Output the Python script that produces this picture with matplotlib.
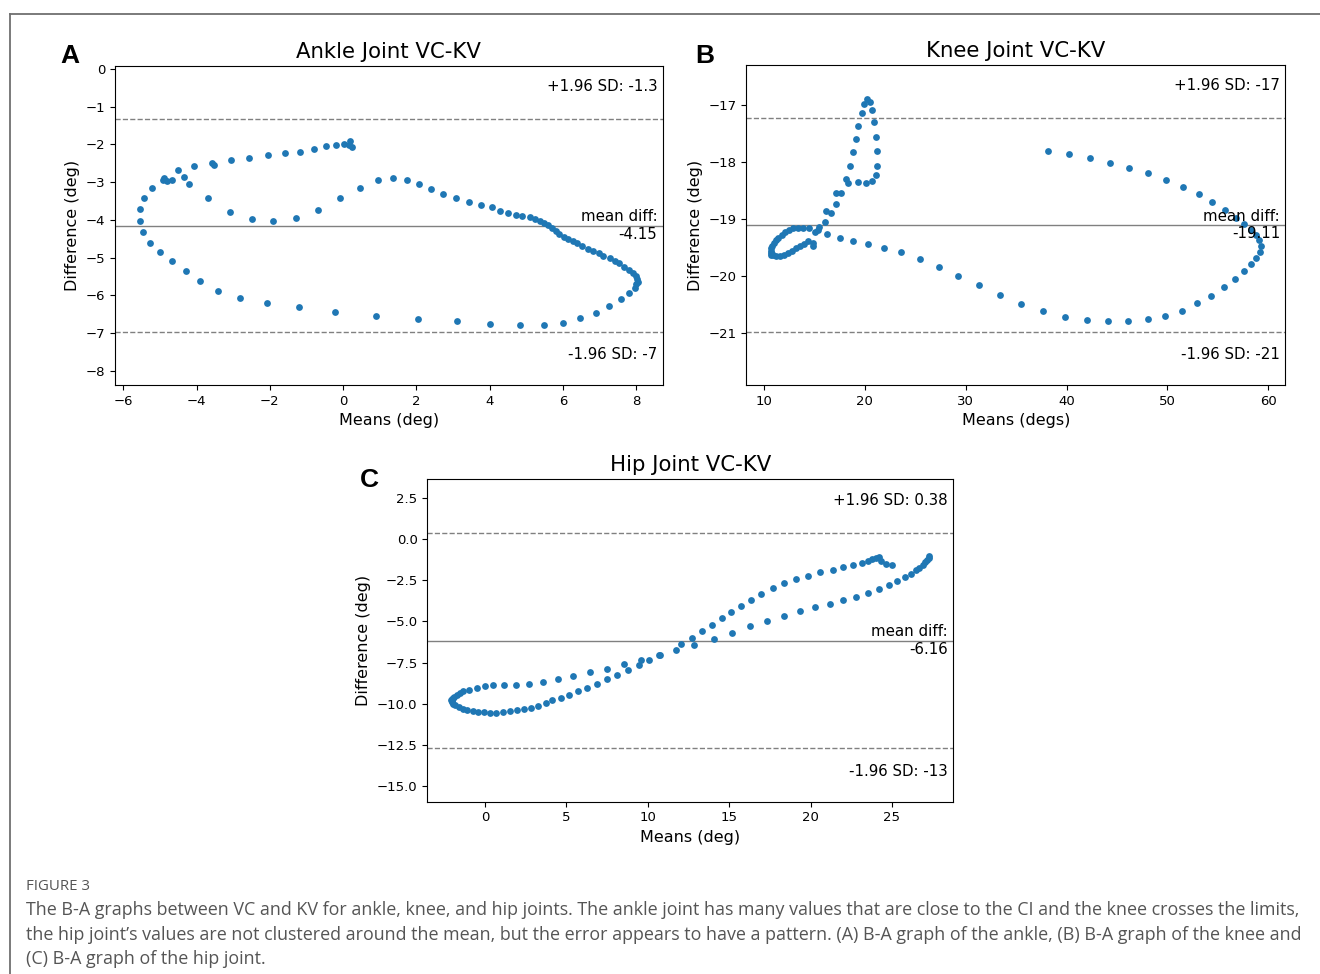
import matplotlib
matplotlib.use("Agg")
import matplotlib.pyplot as plt
from matplotlib.lines import Line2D

# ---- data ----
ankle_means = [0.18, 0.23, 0.16, 0.03, -0.19, -0.47, -0.81, -1.17, -1.60, -2.05, -2.56, -3.07,
               -3.58, -3.54, -4.06, -4.50, -4.35, -4.21, -4.68, -4.82, -4.90, -4.93, -5.22, -5.44,
               -5.54, -5.55, -5.47, -5.27, -4.99, -4.67, -4.30, -3.92, -3.42, -2.82, -2.07, -1.20,
               -0.22, 0.89,
               -3.70, -3.08, -2.49, -1.91, -1.29, -0.68, -0.10, 0.46, 0.94,
               1.36, 1.73, 2.06, 2.40, 2.73, 3.09, 3.44, 3.77, 4.05, 4.29, 4.51, 4.71, 4.89, 5.09,
               5.23, 5.36, 5.49, 5.60, 5.69, 5.80, 5.90, 6.02, 6.14, 6.27, 6.39, 6.52, 6.68, 6.82,
               6.98, 7.10, 7.27, 7.41, 7.54, 7.67, 7.79, 7.92, 7.99, 8.03, 8.04, 7.99, 7.96, 7.81,
               7.57, 7.26, 6.89, 6.46, 6.00, 5.47, 4.82, 4.02, 3.10, 2.04]
ankle_diffs = [-1.92, -2.07, -2.01, -1.99, -2.01, -2.05, -2.12, -2.20, -2.23, -2.29, -2.35, -2.42,
               -2.49, -2.55, -2.56, -2.68, -2.86, -3.05, -2.94, -2.97, -2.90, -2.95, -3.15, -3.43,
               -3.70, -4.02, -4.33, -4.61, -4.86, -5.10, -5.35, -5.63, -5.88, -6.07, -6.21, -6.32,
               -6.44, -6.55,
               -3.42, -3.79, -3.99, -4.03, -3.95, -3.74, -3.42, -3.15, -2.95,
               -2.89, -2.93, -3.05, -3.19, -3.32, -3.43, -3.52, -3.61, -3.67, -3.76, -3.83, -3.87,
               -3.89, -3.93, -3.97, -4.02, -4.07, -4.13, -4.21, -4.29, -4.38, -4.45, -4.52, -4.57,
               -4.62, -4.69, -4.76, -4.82, -4.88, -4.96, -5.02, -5.08, -5.15, -5.24, -5.32, -5.41,
               -5.49, -5.57, -5.64, -5.70, -5.82, -5.95, -6.11, -6.29, -6.46, -6.61, -6.74, -6.79,
               -6.79, -6.75, -6.69, -6.62]
ankle_limits = [-1.33, -4.15, -6.97]   # +1.96 SD, mean diff, -1.96 SD

knee_means = [20.26, 20.49, 19.96, 20.72, 19.70, 20.95, 19.36, 21.12, 19.10, 21.25, 18.80, 21.22,
              18.50, 21.09, 20.72, 20.09, 19.30, 18.11, 18.31, 17.64, 17.15, 17.18, 16.65, 16.15,
              16.09, 15.46, 15.33, 15.06, 14.86, 14.86,
              14.47, 13.90, 13.41, 12.88, 12.48, 12.08, 11.75, 11.42, 11.16, 10.96, 10.83, 10.73,
              10.66, 10.69, 10.72, 10.80,
              10.89, 11.22, 11.62, 12.02, 12.42, 12.81, 13.21, 13.61, 14.00, 14.40,
              16.29, 17.51, 18.87, 20.32, 21.94, 23.63, 25.49, 27.37, 29.29, 31.31, 33.39, 35.51,
              37.66, 39.85, 42.00, 44.08, 46.13, 48.05, 49.77, 51.43, 52.95, 54.37, 55.63, 56.69,
              57.58, 58.31, 58.81, 59.17, 59.27, 59.07, 58.81, 58.31, 57.61, 56.82, 55.73, 54.47,
              53.11, 51.56, 49.87, 48.09, 46.23, 44.28, 42.29, 40.24, 38.16]
knee_diffs = [-16.90, -16.95, -16.98, -17.09, -17.15, -17.31, -17.38, -17.56, -17.60, -17.82, -17.83,
              -18.07, -18.07, -18.24, -18.33, -18.37, -18.35, -18.31, -18.37, -18.54, -18.55, -18.74,
              -18.90, -18.87, -19.05, -19.14, -19.20, -19.23, -19.42, -19.47,
              -19.17, -19.16, -19.16, -19.16, -19.20, -19.23, -19.28, -19.33, -19.38, -19.42, -19.48,
              -19.52, -19.56, -19.60, -19.63, -19.62,
              -19.64, -19.66, -19.65, -19.63, -19.60, -19.56, -19.52, -19.48, -19.44, -19.39,
              -19.27, -19.33, -19.39, -19.44, -19.51, -19.59, -19.70, -19.84, -20.00, -20.17, -20.34,
              -20.50, -20.62, -20.72, -20.78, -20.80, -20.80, -20.76, -20.70, -20.61, -20.48, -20.35,
              -20.20, -20.06, -19.92, -19.79, -19.68, -19.58, -19.47, -19.38, -19.28, -19.19, -19.09,
              -18.98, -18.84, -18.71, -18.57, -18.44, -18.32, -18.20, -18.11, -18.02, -17.93, -17.87,
              -17.81]
knee_limits = [-17.24, -19.11, -20.98]

hip_means = [-2.06, -2.08, -2.02, -1.95, -1.90, -1.73, -1.53, -1.33, -0.96, -0.51, 0.00, 0.51, 1.18,
             1.90, 2.69, 3.57, 4.49, 5.43, 6.45, 7.47, 8.51, 9.59, 10.72, 11.74, 12.86, 14.04,
             15.15, 16.25, 17.33, 18.37, 19.37, 20.27, 21.17, 22.02, 22.78, 23.52, 24.19, 24.80,
             25.33, 25.80, 26.19, 26.47, 26.68, 26.88, 27.05, 27.17, 27.25, 27.30,
             -2.04, -1.98, -1.84, -1.63, -1.37, -1.08, -0.76, -0.41, -0.04, 0.31, 0.67, 1.08, 1.53,
             1.94, 2.39, 2.80, 3.27, 3.74, 4.14, 4.65, 5.18, 5.72, 6.29, 6.86, 7.49, 8.08, 8.76,
             9.43, 10.08, 10.68, 12.04, 12.72, 13.33, 13.92, 14.55, 15.11, 15.72, 16.35, 16.98,
             17.68, 18.37, 19.09, 19.82, 20.58, 21.35, 22.02, 22.62, 23.13, 23.54, 23.78, 24.03,
             24.19, 24.35, 24.64, 25.03]
hip_diffs = [-9.86, -9.80, -9.74, -9.68, -9.60, -9.45, -9.35, -9.25, -9.15, -9.03, -8.95, -8.89,
             -8.87, -8.85, -8.78, -8.68, -8.52, -8.30, -8.09, -7.87, -7.61, -7.34, -7.06, -6.76,
             -6.41, -6.09, -5.70, -5.30, -4.97, -4.67, -4.38, -4.12, -3.92, -3.69, -3.49, -3.25,
             -3.02, -2.78, -2.52, -2.29, -2.09, -1.89, -1.72, -1.56, -1.40, -1.24, -1.12, -1.03,
             -9.93, -10.00, -10.10, -10.21, -10.31, -10.37, -10.43, -10.49, -10.53, -10.55, -10.55,
             -10.51, -10.47, -10.41, -10.35, -10.25, -10.12, -9.96, -9.80, -9.66, -9.47, -9.25,
             -9.03, -8.78, -8.52, -8.24, -7.97, -7.65, -7.34, -7.02, -6.35, -6.01, -5.60, -5.23,
             -4.81, -4.44, -4.08, -3.69, -3.31, -2.96, -2.68, -2.43, -2.21, -1.99, -1.85, -1.68,
             -1.56, -1.42, -1.30, -1.20, -1.12, -1.08, -1.32, -1.48, -1.54]
hip_limits = [0.38, -6.16, -12.70]

caption = ("The B-A graphs between VC and KV for ankle, knee, and hip joints. The ankle joint has many "
           "values that are close to the CI and the knee crosses the limits,\n"
           "the hip joint\u2019s values are not clustered around the mean, but the error appears to have "
           "a pattern. (A) B-A graph of the ankle, (B) B-A graph of the knee and\n"
           "(C) B-A graph of the hip joint.")


def ba_plot(ax, means, diffs, limits, title, xlabel):
    upper, md, lower = limits
    ax.scatter(means, diffs, s=24, color="#1f77b4", zorder=3, linewidths=0)
    ax.axhline(md, color="gray", lw=1)
    ax.axhline(upper, color="gray", ls="--", lw=1)
    ax.axhline(lower, color="gray", ls="--", lw=1)
    half = 1.5 * (upper - md)
    ax.set_ylim(md - half, md + half)
    ax.set_title(title, fontsize=15.3)
    ax.set_xlabel(xlabel, fontsize=11.5)
    ax.set_ylabel("Difference (deg)", fontsize=11.5)
    ax.tick_params(labelsize=9.5)
    ax.text(0.99, 0.935, "+1.96 SD: {:.2g}".format(upper), ha="right", va="center",
            fontsize=10.8, transform=ax.transAxes)
    ax.text(0.99, 0.5, "mean diff:\n{:.2f}".format(md), ha="right", va="center",
            fontsize=10.8, transform=ax.transAxes, multialignment="right")
    ax.text(0.99, 0.095, "-1.96 SD: {:.2g}".format(lower), ha="right", va="center",
            fontsize=10.8, transform=ax.transAxes)


fig = plt.figure(figsize=(13.2, 9.74), dpi=100)

ax_a = fig.add_axes([0.0871, 0.6047, 0.4149, 0.3275])
ax_b = fig.add_axes([0.5652, 0.6047, 0.4086, 0.3285])
ax_c = fig.add_axes([0.3237, 0.1769, 0.3985, 0.3310])

ba_plot(ax_a, ankle_means, ankle_diffs, ankle_limits, "Ankle Joint VC-KV", "Means (deg)")
ba_plot(ax_b, knee_means, knee_diffs, knee_limits, "Knee Joint VC-KV", "Means (degs)")
ba_plot(ax_c, hip_means, hip_diffs, hip_limits, "Hip Joint VC-KV", "Means (deg)")

# panel letters
for letter, x, y in [("A", 70, 56), ("B", 705, 56), ("C", 369, 480)]:
    fig.text(x / 1320, 1 - y / 974, letter, fontsize=19, fontweight="bold",
             family="Liberation Sans", ha="center", va="center")

# page frame
fig.add_artist(Line2D([10 / 1320, 1.0], [1 - 13.5 / 974] * 2, color="#707070", lw=1.3))
fig.add_artist(Line2D([10 / 1320] * 2, [0.0, 1 - 13.5 / 974], color="#707070", lw=1.3))

# caption
fig.text(26 / 1320, 1 - 886 / 974, "FIGURE 3", fontsize=10.8, color="#555555",
         family="Open Sans", ha="left", va="center")
fig.text(26 / 1320, 1 - 901 / 974, caption, fontsize=12.9, color="#555555",
         family="Open Sans", ha="left", va="top", linespacing=1.47)

fig.savefig("out.png", dpi=100)
